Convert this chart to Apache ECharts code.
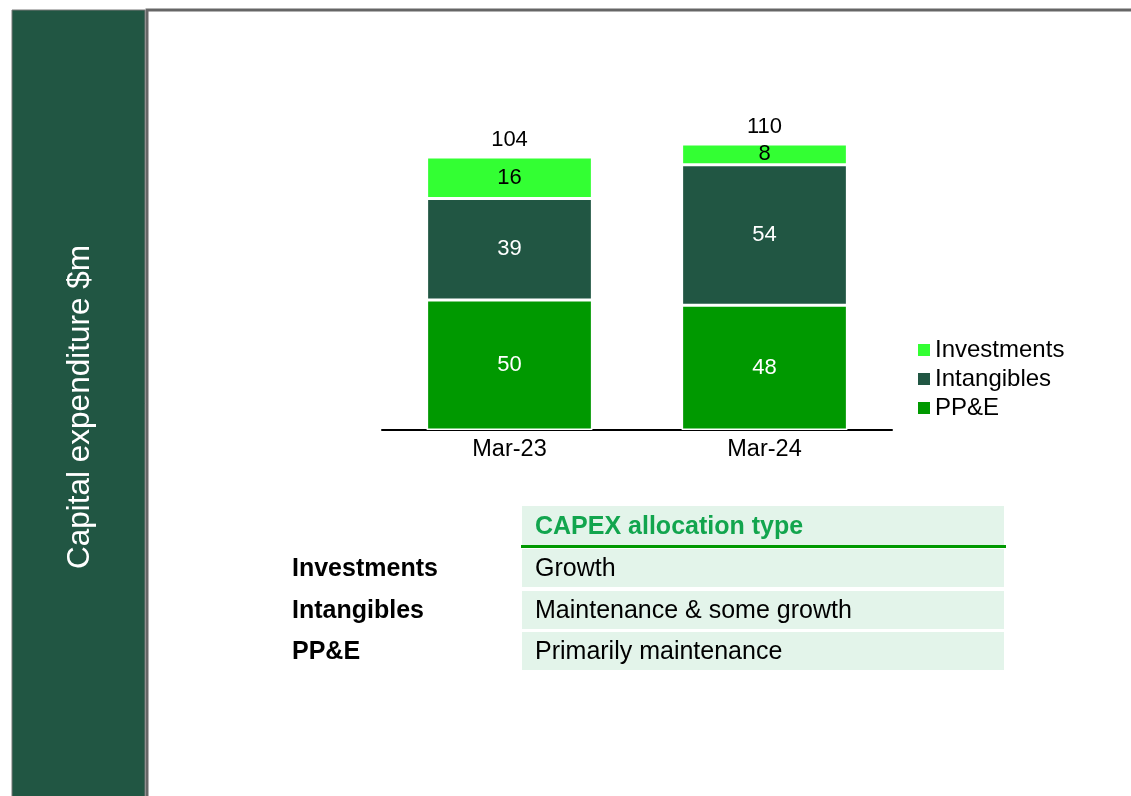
<!DOCTYPE html>
<html>
<head>
<meta charset="utf-8">
<script src="https://cdn.jsdelivr.net/npm/echarts@6/dist/echarts.min.js"></script>
<style>
html,body{margin:0;padding:0;background:#fff;}
#chart{width:1131px;height:796px;}
</style>
</head>
<body>
<div id="chart"></div>
<script>
const categories = ['Mar-23', 'Mar-24'];
const ppe = [50, 48];
const intangibles = [39, 54];
const investments = [16, 8];
const totals = [104, 110];
const axisTitle = 'Capital expenditure $m';
const tableHeader = 'CAPEX allocation type';
const tableLabels = ['Investments', 'Intangibles', 'PP&E'];
const tableTypes = ['Growth', 'Maintenance & some growth', 'Primarily maintenance'];

const FONT = '"Liberation Sans", Arial, sans-serif';
const C_INV = '#33FF33', C_INT = '#215643', C_PPE = '#009900';

const chart = echarts.init(document.getElementById('chart'));

const graphics = [
  {type:'rect', shape:{x:12, y:10, width:133, height:790}, style:{fill:'#215643', stroke:'#777', lineWidth:1}, z:0},
  {type:'rect', shape:{x:147, y:10, width:1100, height:900}, style:{fill:'none', stroke:'#666', lineWidth:3}, z:0},
  {type:'text', x:80, y:407, rotation:Math.PI/2, style:{text:axisTitle, font:'31.5px ' + FONT, fill:'#fff', align:'center', verticalAlign:'middle'}},
  {type:'rect', shape:{x:522, y:506, width:482, height:40}, style:{fill:'#E3F4EA'}},
  {type:'text', x:535, y:527, style:{text:tableHeader, font:'bold 25px ' + FONT, fill:'#12A54E', verticalAlign:'middle'}},
  {type:'line', shape:{x1:521, y1:546.5, x2:1006, y2:546.5}, style:{stroke:'#009900', lineWidth:3}}
];
const rowTops = [549, 591, 632];
const rowH = [38, 38, 38];
tableLabels.forEach((lab, i) => {
  const cy = rowTops[i] + rowH[i] / 2;
  graphics.push({type:'rect', shape:{x:522, y:rowTops[i], width:482, height:rowH[i]}, style:{fill:'#E3F4EA'}});
  graphics.push({type:'text', x:292, y:cy + 1, style:{text:lab, font:'bold 25px ' + FONT, fill:'#000', verticalAlign:'middle'}});
  graphics.push({type:'text', x:535, y:cy + 1, style:{text:tableTypes[i], font:'25px ' + FONT, fill:'#000', verticalAlign:'middle'}});
});

const segStyle = (color) => ({color:color, borderColor:'#fff', borderWidth:1.5});

chart.setOption({
  animation:false,
  backgroundColor:'#fff',
  textStyle:{fontFamily:FONT},
  graphic:graphics,
  grid:{left:382, top:66, width:510, height:364},
  legend:{
    data:['Investments', 'Intangibles', 'PP&E'],
    orient:'vertical', left:913, top:333,
    itemWidth:12, itemHeight:12, itemGap:5,
    icon:'rect',
    itemStyle:{borderWidth:0},
    textStyle:{fontSize:24, color:'#000', fontFamily:FONT, padding:[0,0,0,0]}
  },
  xAxis:{
    type:'category', data:categories,
    axisLine:{lineStyle:{color:'#000', width:2}},
    axisTick:{show:false},
    axisLabel:{fontSize:23.5, color:'#000', margin:8, fontFamily:FONT}
  },
  yAxis:{type:'value', min:0, max:140, show:false, splitLine:{show:false}},
  series:[
    {name:'PP&E', type:'bar', stack:'s', barWidth:'65%', data:ppe, itemStyle:segStyle(C_PPE),
      label:{show:true, position:'inside', color:'#fff', fontSize:22, fontFamily:FONT}},
    {name:'Intangibles', type:'bar', stack:'s', data:intangibles, itemStyle:segStyle(C_INT),
      label:{show:true, position:'inside', color:'#fff', fontSize:22, fontFamily:FONT}},
    {name:'Investments', type:'bar', stack:'s', data:investments, itemStyle:segStyle(C_INV),
      label:{show:true, position:'inside', color:'#000', fontSize:22, fontFamily:FONT}},
    {name:'Total', type:'bar', stack:'s', data:totals.map(() => 0), itemStyle:{color:'transparent'},
      label:{show:true, position:'top', distance:6, color:'#000', fontSize:22, fontFamily:FONT,
        formatter:(p) => String(totals[p.dataIndex])}}
  ]
});
</script>
</body>
</html>
